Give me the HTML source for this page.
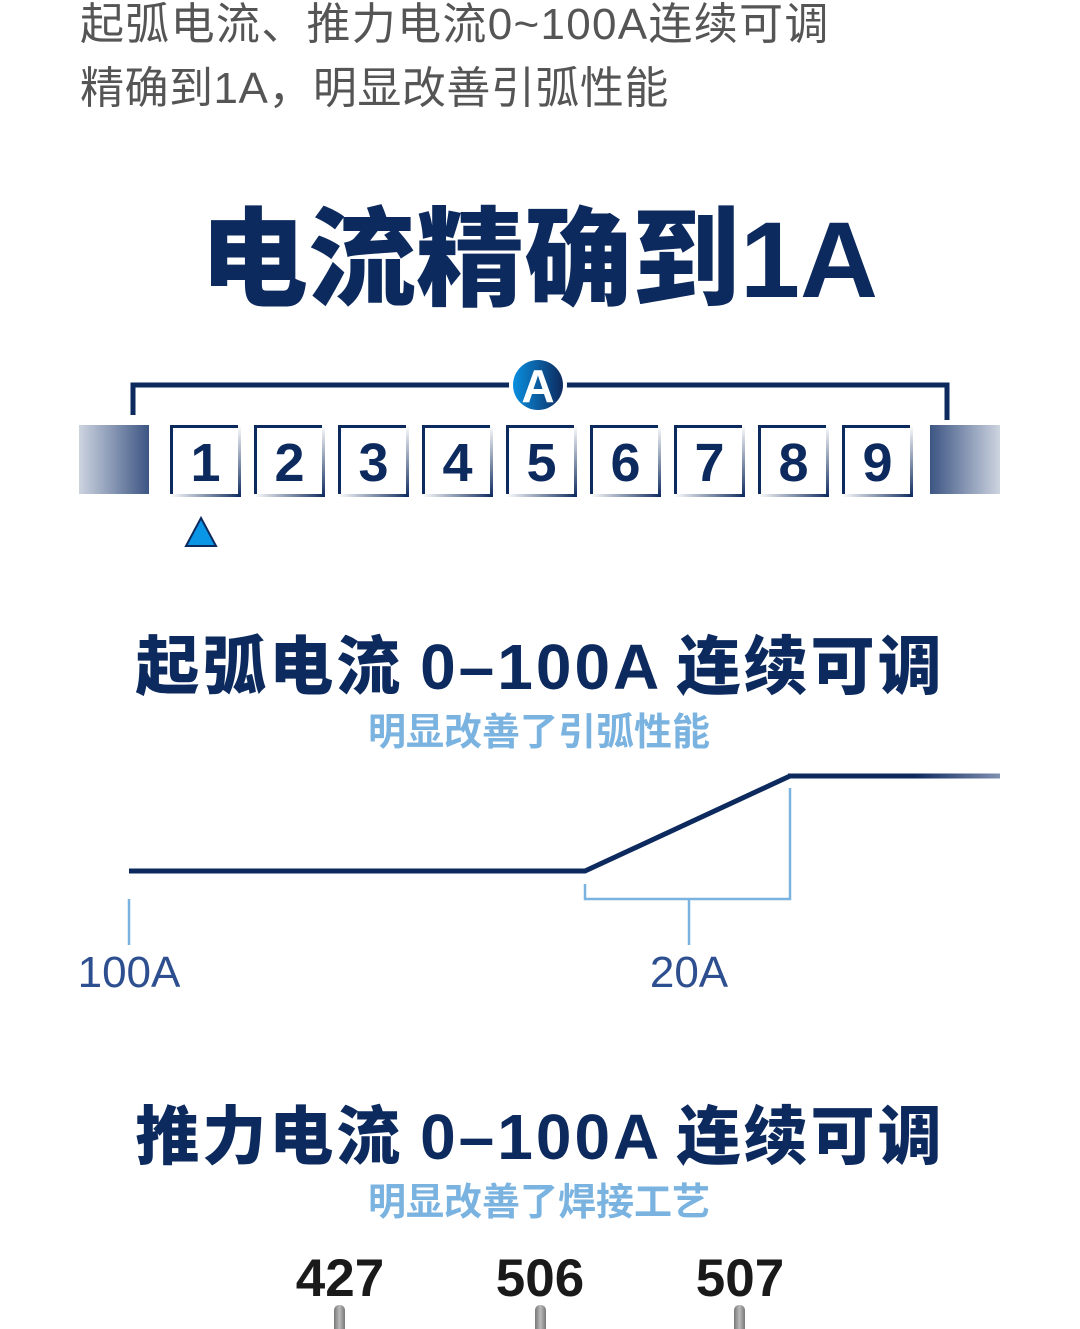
<!DOCTYPE html>
<html><head><meta charset="utf-8"><style>
body{margin:0;width:1080px;height:1329px;background:#fff;position:relative;overflow:hidden;font-family:"Liberation Sans","Noto Sans CJK SC",sans-serif}
.t{position:absolute;white-space:nowrap}
.c{transform:translateX(-50%)}
.box{position:absolute;top:425px;width:68px;height:69px;box-sizing:border-box;border-top:3px solid #0d2a5e;border-left:3px solid #0d2a5e;background:#fff;}
.box:after{content:"";position:absolute;right:-3px;top:-3px;width:3px;height:72px;background:linear-gradient(#fff,#0d2a5e)}
.box:before{content:"";position:absolute;left:-3px;bottom:-3px;height:3px;width:71px;background:linear-gradient(90deg,#fff,#0d2a5e)}
.box span{position:absolute;left:0;right:0;top:2px;text-align:center;font:bold 54px "Liberation Sans",sans-serif;color:#0d2a5e;line-height:66px}
.navy{color:#0d2a5e}
</style></head><body>
<div class="t" style="left:80px;top:-2px;font-size:44px;letter-spacing:1.3px;color:#555;line-height:54px">起弧电流、推力电流0~100A连续可调</div>
<div class="t" style="left:80px;top:62px;font-size:44px;letter-spacing:0.5px;color:#555;line-height:54px">精确到1A，明显改善引弧性能</div>
<div class="t c navy" style="left:539px;top:196px;font-size:108px;font-weight:900;line-height:128px;letter-spacing:0px">电流精确到1A</div>

<svg width="1080" height="1329" style="position:absolute;left:0;top:0">
<defs>
<linearGradient id="gl" x1="0" x2="1"><stop offset="0" stop-color="#cdd4e0"/><stop offset="1" stop-color="#3c5583"/></linearGradient>
<linearGradient id="gr" x1="0" x2="1"><stop offset="0" stop-color="#3c5583"/><stop offset="1" stop-color="#cdd4e0"/></linearGradient>
<linearGradient id="ga" x1="0" x2="1"><stop offset="0" stop-color="#0a8fe0"/><stop offset="1" stop-color="#0d2a5e"/></linearGradient>
<linearGradient id="gf" x1="0" x2="1"><stop offset="0" stop-color="#0d2a5e"/><stop offset=".6" stop-color="#0d2a5e"/><stop offset="1" stop-color="#8090b0"/></linearGradient>
<linearGradient id="pin" x1="0" x2="1"><stop offset="0" stop-color="#777"/><stop offset=".5" stop-color="#bbb"/><stop offset="1" stop-color="#777"/></linearGradient>
</defs>
<rect x="79" y="425" width="70" height="69" fill="url(#gl)"/>
<rect x="930" y="425" width="70" height="69" fill="url(#gr)"/>
<polyline points="133,415 133,385 947,385 947,420" fill="none" stroke="#0d2a5e" stroke-width="5"/>
<circle cx="538" cy="385" r="29" fill="#fff"/>
<circle cx="538" cy="385" r="25" fill="url(#ga)"/>
<text x="538" y="402" text-anchor="middle" font-family="Liberation Sans" font-weight="bold" font-size="46" fill="#fff">A</text>
<polygon points="201,518 216,546 186,546" fill="#0a96e6" stroke="#0d2a5e" stroke-width="2"/>
<polyline points="129,871 585,871 790,776" fill="none" stroke="#0d2a5e" stroke-width="5"/>
<rect x="788" y="773.5" width="212" height="5" fill="url(#gf)"/>
<g stroke="#7ab3e0" stroke-width="2.5" fill="none">
<polyline points="585,884 585,899 790,899 790,788"/>
<line x1="689" y1="899" x2="689" y2="945"/>
<line x1="129" y1="899" x2="129" y2="945"/>
</g>
<rect x="334" y="1305" width="11" height="30" rx="5" fill="url(#pin)"/>
<rect x="535" y="1305" width="11" height="30" rx="5" fill="url(#pin)"/>
<rect x="734" y="1305" width="11" height="30" rx="5" fill="url(#pin)"/>
</svg>

<div class="box" style="left:170px"><span>1</span></div>
<div class="box" style="left:254px"><span>2</span></div>
<div class="box" style="left:338px"><span>3</span></div>
<div class="box" style="left:422px"><span>4</span></div>
<div class="box" style="left:506px"><span>5</span></div>
<div class="box" style="left:590px"><span>6</span></div>
<div class="box" style="left:674px"><span>7</span></div>
<div class="box" style="left:758px"><span>8</span></div>
<div class="box" style="left:842px"><span>9</span></div>

<div class="t c navy" style="left:540px;top:626px;font-size:64px;font-weight:900;line-height:82px;letter-spacing:3px;word-spacing:-4px">起弧电流 0–100A 连续可调</div>
<div class="t c" style="left:539px;top:710px;font-size:38px;font-weight:bold;color:#7ab3e0;line-height:46px">明显改善了引弧性能</div>
<div class="t c" style="left:129px;top:948px;font-size:44px;color:#2e4f8f;line-height:50px">100A</div>
<div class="t c" style="left:689px;top:948px;font-size:44px;color:#2e4f8f;line-height:50px">20A</div>

<div class="t c navy" style="left:540px;top:1096px;font-size:64px;font-weight:900;line-height:82px;letter-spacing:3px;word-spacing:-4px">推力电流 0–100A 连续可调</div>
<div class="t c" style="left:539px;top:1180px;font-size:38px;font-weight:bold;color:#7ab3e0;line-height:46px">明显改善了焊接工艺</div>

<div class="t c" style="left:340px;top:1250px;font-size:53px;font-weight:bold;color:#1a1a1a;line-height:58px">427</div>
<div class="t c" style="left:540px;top:1250px;font-size:53px;font-weight:bold;color:#1a1a1a;line-height:58px">506</div>
<div class="t c" style="left:740px;top:1250px;font-size:53px;font-weight:bold;color:#1a1a1a;line-height:58px">507</div>
</body></html>
